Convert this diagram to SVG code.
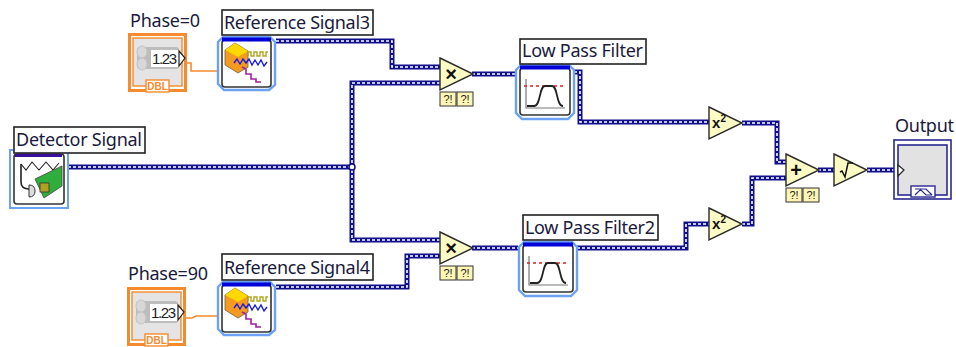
<svg xmlns="http://www.w3.org/2000/svg" width="956" height="347" viewBox="0 0 956 347">
<style>
text{font-family:"Noto Sans","DejaVu Sans","Liberation Sans",sans-serif;font-size:18px;fill:#1a1a3c}
.lb{fill:#fff;stroke:#222;stroke-width:1.6}
.w{fill:none;stroke:#10108c;stroke-width:5;stroke-linejoin:miter}
.wi{fill:none;stroke:#fff;stroke-width:1.6;stroke-dasharray:3 2}
.o{fill:none;stroke:#f58a2e;stroke-width:1.6}
.tri{fill:#fdfbc4;stroke:#2a2a2a;stroke-width:1.4}
.err{fill:#fdf6b4;stroke:#333;stroke-width:1}
.et{font-family:"Liberation Sans",sans-serif;font-size:11px;font-weight:normal;fill:#222;text-anchor:middle}
.op{font-family:"Liberation Sans",sans-serif;font-size:20px;font-weight:bold;fill:#111;text-anchor:middle}
.fr{fill:#fff;stroke:#6da2f2;stroke-width:2.4}
.ib{fill:#fff;stroke:#333;stroke-width:1.6}
</style>
<defs>
<g id="ctl">
<rect x="1.500" y="1.500" width="56" height="56" fill="#fff" stroke="#f58a2e" stroke-width="3"/>
<rect x="5" y="5" width="49" height="48" fill="#e4e4e4" stroke="#f58a2e" stroke-width="1.400"/>
<rect x="9" y="14" width="42" height="22" rx="3" fill="#bdbdbd"/>
<ellipse cx="14" cy="19" rx="5" ry="6" fill="#d8d8d8" stroke="#c4c4c4"/>
<ellipse cx="14" cy="31" rx="5" ry="6" fill="#d8d8d8" stroke="#c4c4c4"/>
<rect x="23" y="17" width="28" height="17" fill="#fff"/>
<text x="24" y="31" textLength="25" style="font-size:15px;fill:#222;font-family:'Liberation Sans',sans-serif">1.23</text>
<path d="M51 18L57 25 51 33Z" fill="#fff" stroke="#222" stroke-width="1.200"/>
<rect x="18" y="47" width="23" height="12" fill="#fff" stroke="#f58a2e" stroke-width="1.400"/>
<text x="29.500" y="57" style="font-size:10px;font-weight:bold;fill:#f58a2e;text-anchor:middle;font-family:'Liberation Sans',sans-serif">DBL</text>
</g>
<g id="sig">
<path class="fr" d="M6 1H53L58 6V49L52 54H7L1 48V6Z"/>
<rect class="ib" x="5" y="4" width="49" height="47" rx="3"/>
<rect x="5" y="1.500" width="49" height="4" fill="#0000d8"/>
<path d="M8 14L18 7 31 15V31L21 37 8 29Z" fill="#f59a20" stroke="#664" stroke-width=".8"/>
<path d="M8 14L18 7 31 15 21 21Z" fill="#ffd800"/>
<path d="M31 20V16h3v4h3v-4h3v4h3v-4h3v4h3v-4h2" fill="none" stroke="#b0a820" stroke-width="1.400"/>
<path d="M17 27l3-4 3 5 3-5 3 4 3-4 3 6 3-5 3 5 3-5 3 6 3-4" fill="none" stroke="#1a1ae0" stroke-width="1.400"/>
<path d="M25 31l4 2v5h5v5h5v3h5" fill="none" stroke="#a020a0" stroke-width="1.600"/>
</g>
<g id="lpf">
<path class="fr" d="M6 1H54L59 6V49L53 55H7L1 49V6Z"/>
<rect class="ib" x="5" y="4" width="50" height="47" rx="3"/>
<rect x="5" y="1.500" width="50" height="4" fill="#0000d8"/>
<path d="M11 15V44H50" fill="none" stroke="#777" stroke-width="1.200"/>
<path d="M9 22H50" fill="none" stroke="#e02020" stroke-width="1.400" stroke-dasharray="3 3"/>
<path d="M12 42H19C26 42 24 22 30 22H37C43 22 41 42 48 42" fill="none" stroke="#222" stroke-width="1.800"/>
</g>
<g id="err">
<rect class="err" x="0" y="0" width="16" height="14"/>
<rect class="err" x="17" y="0" width="16" height="14"/>
<text class="et" x="8" y="11">?!</text>
<text class="et" x="25" y="11">?!</text>
</g>
<path id="t" class="tri" d="M0 0L33 16 0 32Z"/>
<path id="p1" d="M276 41H392V67H440"/>
<path id="p2" d="M276 287H407V256H440"/>
<path id="p3" d="M68 167H352"/>
<path id="p4" d="M440 83H352V240H440"/>
<path id="p5" d="M472 74H516"/>
<path id="p6" d="M472 248H518"/>
<path id="p7" d="M574 72H580V122H710"/>
<path id="p8" d="M577 248H686V224H710"/>
<path id="p9" d="M742 123H777V162H787"/>
<path id="p10" d="M742 224H752V178H787"/>
<path id="p11" d="M818 170H835"/>
<path id="p12" d="M867 170H894"/>
</defs>
<g id="connectors">
<path class="o" d="M184 63H191V71H217"/>
<path class="o" d="M183 318H192L196 316H217"/>
<g class="w"><use href="#p1"/><use href="#p2"/><use href="#p3"/><use href="#p4"/><use href="#p5"/><use href="#p6"/><use href="#p7"/><use href="#p8"/><use href="#p9"/><use href="#p10"/><use href="#p11"/><use href="#p12"/></g>
<g class="wi"><use href="#p1"/><use href="#p2"/><use href="#p3"/><use href="#p4"/><use href="#p5"/><use href="#p6"/><use href="#p7"/><use href="#p8"/><use href="#p9"/><use href="#p10"/><use href="#p11"/><use href="#p12"/></g>
<circle cx="352" cy="167" r="3" fill="#fff" stroke="#10108c" stroke-width="1.500"/>
</g>
<g id="phase0"><text x="130" y="27" textLength="70">Phase=0</text><use href="#ctl" x="128" y="33"/></g>
<g id="phase90"><text x="128" y="280" textLength="80">Phase=90</text><use href="#ctl" x="127" y="287"/></g>
<g id="refsig3"><use href="#sig" x="217" y="36"/><rect class="lb" x="222" y="10" width="151" height="25"/><text x="224" y="29" textLength="146">Reference Signal3</text></g>
<g id="refsig4"><use href="#sig" x="217" y="281"/><rect class="lb" x="222" y="254" width="151" height="26"/><text x="224" y="274" textLength="146">Reference Signal4</text></g>
<g id="detector">
<rect x="10" y="150" width="58" height="58" fill="#fff" stroke="#6da2f2" stroke-width="2"/>
<rect class="ib" x="14" y="154" width="50" height="50" rx="3"/>
<rect x="15" y="154" width="47" height="3" fill="#3a109c"/>
<path d="M21 164V182Q21 189 29 189" fill="none" stroke="#222" stroke-width="1.600"/>
<path d="M21 164l5 6 6-8 7 8 7-8 7 8 6-7" fill="none" stroke="#222" stroke-width="1.100"/>
<path d="M35 179L62 166V186L44 198Z" fill="#2fae3c" stroke="#444" stroke-width=".8"/>
<rect x="40" y="183" width="9" height="9" fill="#b0a020" stroke="#333" stroke-width=".8"/>
<path d="M29 185Q35 185 35 191T29 197Z" fill="#ddd" stroke="#333"/>
<rect class="lb" x="14" y="127" width="131" height="26"/><text x="16" y="146" textLength="126">Detector Signal</text>
</g>
<g id="mul1"><use href="#t" x="440" y="58"/><text class="op" x="451" y="81">×</text><use href="#err" x="440" y="92"/></g>
<g id="mul2"><use href="#t" x="440" y="232"/><text class="op" x="451" y="255">×</text><use href="#err" x="440" y="266"/></g>
<g id="lpf1"><use href="#lpf" x="515" y="64"/><rect class="lb" x="520" y="39" width="126" height="25"/><text x="522" y="57" textLength="121">Low Pass Filter</text></g>
<g id="lpf2"><use href="#lpf" x="518" y="241"/><rect class="lb" x="523" y="215" width="135" height="25"/><text x="525" y="234" textLength="130">Low Pass Filter2</text></g>
<g id="sq1"><use href="#t" x="709" y="107"/><text class="op" x="719" y="128" style="font-size:15px">x<tspan dy="-6" style="font-size:10px">2</tspan></text></g>
<g id="sq2"><use href="#t" x="709" y="208"/><text class="op" x="719" y="229" style="font-size:15px">x<tspan dy="-6" style="font-size:10px">2</tspan></text></g>
<g id="add"><use href="#t" x="786" y="154"/><text class="op" x="796" y="177">+</text><use href="#err" x="786" y="188"/></g>
<g id="sqrt"><use href="#t" x="834" y="154"/><path d="M840 172l2-1 3 6 3-14h5" fill="none" stroke="#111" stroke-width="1.500"/></g>
<g id="output">
<text x="895" y="132" textLength="59">Output</text>
<rect x="894" y="140" width="57" height="59" fill="#fff" stroke="#2a2a90" stroke-width="1.600"/>
<rect x="898" y="145" width="49" height="50" fill="#e2e2e2" stroke="#2a2a90" stroke-width="1.600"/>
<rect x="911" y="186" width="24" height="11" fill="#fff" stroke="#2a2a90" stroke-width="1.400"/>
<path d="M915 195L921 189H926L932 195M915 189H920L926 195H932" fill="none" stroke="#2a2a90" stroke-width="1.200"/>
<path d="M898 165L904 170 898 176Z" fill="#fff" stroke="#222" stroke-width="1.200"/>
</g>
</svg>
